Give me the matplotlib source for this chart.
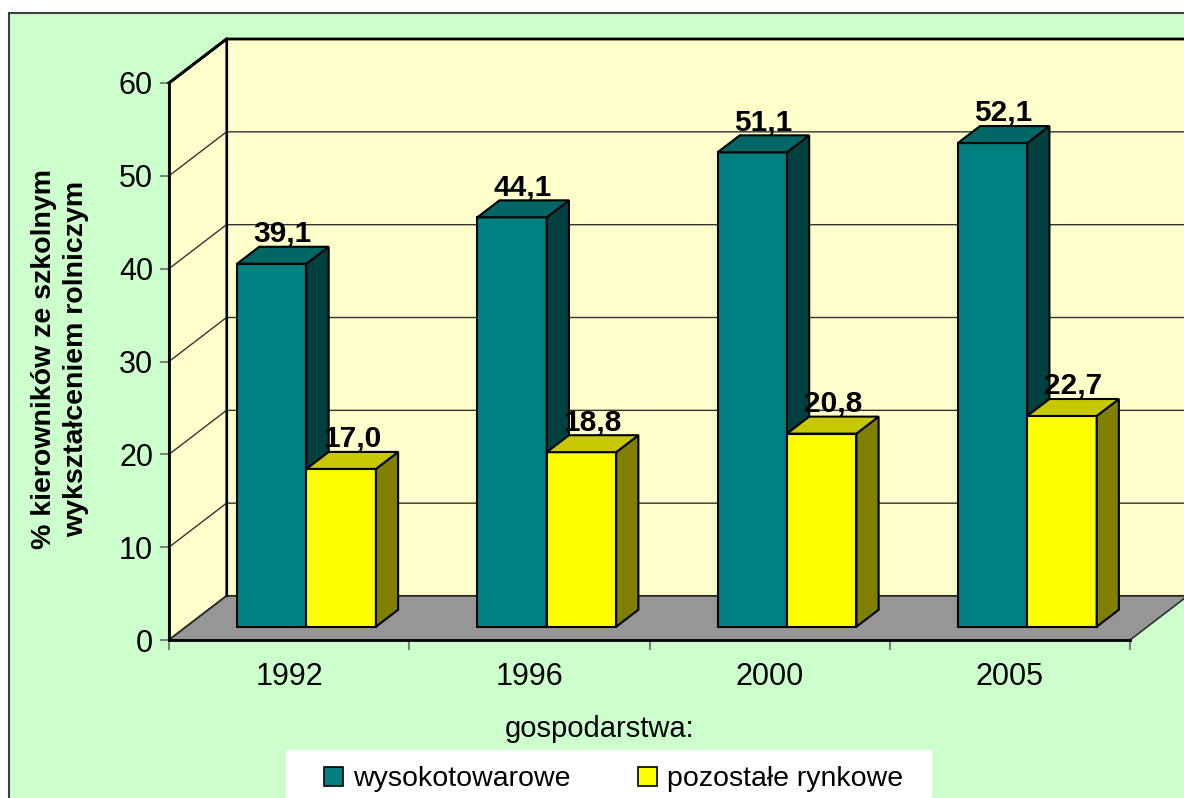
import matplotlib
matplotlib.use("Agg")
import matplotlib.pyplot as plt
from matplotlib.patches import Polygon, Rectangle
from matplotlib.lines import Line2D

plt.rcParams['font.family'] = ['Liberation Sans', 'DejaVu Sans']

# ---- data ----
years = ["1992", "1996", "2000", "2005"]
series_names = ["wysokotowarowe", "pozostałe rynkowe"]
wysokotowarowe = [39.1, 44.1, 51.1, 52.1]
pozostale_rynkowe = [17.0, 18.8, 20.8, 22.7]
y_ticks = [0, 10, 20, 30, 40, 50, 60]
y_title = "% kierowników ze szkolnym\nwykształceniem rolniczym"
x_title = "gospodarstwa:"

# ---- style ----
W, H = 1184, 798
fig = plt.figure(figsize=(W / 100, H / 100), dpi=100)
fig.patch.set_facecolor("white")

def fx(px):
    return px / W

def fy(py):
    return 1 - py / H

BG = "#CCFFCC"
WALL = "#FFFFCC"
FLOOR = "#969696"
front_cols = ["#008080", "#FFFF00"]
top_cols = ["#006666", "#C8C800"]
side_cols = ["#004040", "#808000"]

# outer chart area
fig.patches.append(Rectangle((fx(8.5), fy(830)), fx(1300), fy(13.5) - fy(830),
                             transform=fig.transFigure, facecolor=BG,
                             edgecolor="#404040", lw=1.5, zorder=-10))

# axes: front plane
ax = fig.add_axes([fx(169), fy(640), fx(1130) - fx(169), fy(83) - fy(640)])
ax.set_zorder(1)
ax.set_xlim(0, len(years))
ax.set_ylim(0, 60)
ax.patch.set_visible(False)
for s in ["top", "right"]:
    ax.spines[s].set_visible(False)
ax.spines["left"].set_linewidth(2)
ax.spines["bottom"].set_linewidth(2)
ax.spines["left"].set_zorder(6)
ax.spines["bottom"].set_zorder(6)

# 3D depth offsets in data units
DX = 57.5 / 240.25
DY = 44.0 / 9.285
d0, d1 = 0.302, 0.688
bw = 0.289

n = len(years)
top = y_ticks[-1]

def poly(pts, fc, ec="black", lw=1.2, z=1):
    ax.add_patch(Polygon(pts, closed=True, facecolor=fc, edgecolor=ec, lw=lw,
                         zorder=z, clip_on=False, joinstyle="miter"))

# side wall
poly([(0, 0), (0, top), (DX, top + DY), (DX, DY)], WALL, lw=1.5, z=1)
# back wall
poly([(DX, DY), (n + DX, DY), (n + DX, top + DY), (DX, top + DY)], WALL, lw=1.5, z=1)
# floor
poly([(0, 0), (n, 0), (n + DX, DY), (DX, DY)], FLOOR, ec="#303030", lw=1.2, z=2)

# gridlines
for v in y_ticks[1:]:
    lw = 2 if v == top else 1
    col = "black" if v == top else "#333333"
    ax.add_line(Line2D([0, DX, n + DX], [v, v + DY, v + DY], color=col, lw=lw,
                       zorder=3, clip_on=False))
ax.add_line(Line2D([DX, DX], [DY, top + DY], color="black", lw=1.5, zorder=3, clip_on=False))
ax.add_line(Line2D([0, DX], [top, top + DY], color="black", lw=2, zorder=3, clip_on=False))

# bars
ox0, oy0 = d0 * DX, d0 * DY
ox1, oy1 = d1 * DX, d1 * DY
labels = []
for i in range(n):
    c = i + 0.5
    for k, vals in enumerate([wysokotowarowe, pozostale_rynkowe]):
        v = vals[i]
        x0 = c - bw if k == 0 else c
        x1 = x0 + bw
        z = 4 + i * 2 + k
        # front
        poly([(x0 + ox0, oy0), (x1 + ox0, oy0), (x1 + ox0, v + oy0), (x0 + ox0, v + oy0)],
             front_cols[k], lw=1.5, z=z)
        # side
        poly([(x1 + ox0, oy0), (x1 + ox1, oy1), (x1 + ox1, v + oy1), (x1 + ox0, v + oy0)],
             side_cols[k], lw=1.5, z=z)
        # top
        poly([(x0 + ox0, v + oy0), (x1 + ox0, v + oy0), (x1 + ox1, v + oy1), (x0 + ox1, v + oy1)],
             top_cols[k], lw=1.5, z=z)
        labels.append((x0 + (x1 - x0) / 2 + (ox0 + ox1) / 2, v + oy1 + 0.55,
                       f"{v:.1f}".replace(".", ",")))

for x, y, t in labels:
    ax.text(x, y, t, ha="center", va="baseline", fontsize=21.5, fontweight="bold",
            zorder=30, clip_on=False)

# ticks
ax.set_yticks(y_ticks)
ax.set_yticklabels([str(v) for v in y_ticks], fontsize=22)
ax.tick_params(axis="y", direction="out", length=6.5, width=1.5, color="#808080", pad=5)
ax.set_xticks(range(n + 1))
ax.set_xticklabels([])
ax.tick_params(axis="x", which="major", direction="out", length=7.5, width=1.5, color="#808080")
ax.set_xticks([i + 0.5 for i in range(n)], minor=True)
ax.set_xticklabels(years, minor=True, fontsize=22)
ax.tick_params(axis="x", which="minor", length=0, pad=16)

# titles
fig.text(fx(60), fy(359), y_title, rotation=90, ha="center", va="center",
         fontsize=20.5, fontweight="bold", multialignment="center", linespacing=1.3)
fig.text(fx(600), fy(737), x_title, ha="center", va="baseline", fontsize=21)

# legend
fig.patches.append(Rectangle((fx(286), fy(830)), fx(932) - fx(286), fy(750) - fy(830),
                             transform=fig.transFigure, facecolor="white",
                             edgecolor="none", zorder=-5))
leg_sq_x = [324, 638]
leg_tx = [353, 667]
for k in range(2):
    fig.patches.append(Rectangle((fx(leg_sq_x[k]), fy(786)), fx(19), fy(767) - fy(786),
                                 transform=fig.transFigure, facecolor=front_cols[k],
                                 edgecolor="black", lw=1.2, zorder=-4))
    fig.text(fx(leg_tx[k]), fy(786), series_names[k], ha="left", va="baseline",
             fontsize=20.5, zorder=3)

fig.savefig("out.png", dpi=100)
